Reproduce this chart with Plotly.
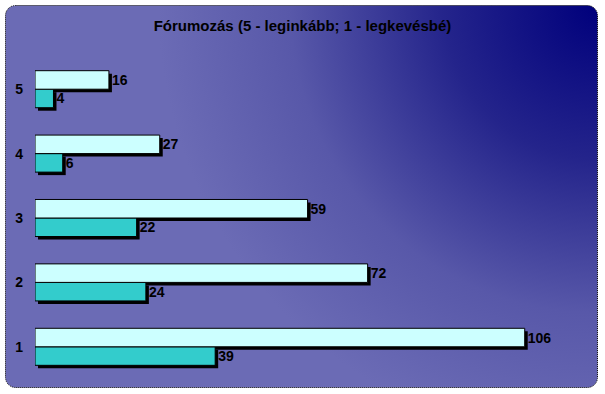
import base64
import plotly.graph_objects as go

categories = ["1", "2", "3", "4", "5"]
light_values = [106, 72, 59, 27, 16]
teal_values = [39, 24, 22, 6, 4]
title_text = "<b>Fórumozás (5 - leginkább; 1 - legkevésbé)</b>"

FW, FH = 605, 394
ML, MR, MT, MB = 35, 39, 57, 12
PW, PH = FW - ML - MR, FH - MT - MB
SH = 3  # shadow offset px
XMAX = (PW - SH) / 4.62

LIGHT = "#CCFFFF"
TEAL = "#33CCCC"
FONT = "Arial, Liberation Sans, sans-serif"

svg = f'''<svg xmlns="http://www.w3.org/2000/svg" width="{FW}" height="{FH}" viewBox="0 0 {FW} {FH}" preserveAspectRatio="none">
<defs><radialGradient id="g" gradientUnits="userSpaceOnUse" cx="598" cy="5" r="440">
<stop offset="0" stop-color="#00007C"/>
<stop offset="0.35" stop-color="#24248B"/>
<stop offset="0.7" stop-color="#5858A9"/>
<stop offset="1" stop-color="#6B6BB5"/>
</radialGradient></defs>
<rect x="5.5" y="5.5" width="592" height="382" rx="10" ry="10" fill="url(#g)" stroke="#000" stroke-width="1" stroke-dasharray="1,1"/>
</svg>'''
src = "data:image/svg+xml;base64," + base64.b64encode(svg.encode("utf-8")).decode("ascii")

fig = go.Figure()

# shadow bars (subplot x/y, shifted right & down)
for vals in (teal_values, light_values):
    fig.add_trace(go.Bar(
        y=categories, x=vals, orientation="h",
        marker=dict(color="#000000", line=dict(width=0)),
        xaxis="x", yaxis="y", hoverinfo="skip", showlegend=False,
    ))

# main bars (subplot x2/y2)
for vals, col in ((teal_values, TEAL), (light_values, LIGHT)):
    fig.add_trace(go.Bar(
        y=categories, x=vals, orientation="h",
        marker=dict(color=col, line=dict(width=1, color="#000000")),
        text=[str(v) for v in vals], textposition="outside",
        textfont=dict(family=FONT, size=14, color="#000000"),
        texttemplate="<b>%{text}</b>", constraintext="none", cliponaxis=False,
        xaxis="x2", yaxis="y2", showlegend=False,
    ))

fig.update_layout(
    width=FW, height=FH,
    margin=dict(l=ML, r=MR, t=MT, b=MB),
    paper_bgcolor="#FFFFFF", plot_bgcolor="rgba(0,0,0,0)",
    barmode="group", bargap=0.425, bargroupgap=0,
    showlegend=False,
    title=dict(text=title_text, x=0.5, xref="container", xanchor="center",
               y=1 - 26 / FH, yref="container", yanchor="middle",
               font=dict(family=FONT, size=15, color="#000000")),
    xaxis=dict(domain=[SH / PW, 1], range=[0, XMAX], visible=False, anchor="y"),
    yaxis=dict(domain=[0, 1 - SH / PH], visible=False, anchor="x",
               categoryorder="array", categoryarray=categories),
    xaxis2=dict(domain=[0, 1 - SH / PW], range=[0, XMAX], visible=False, anchor="y2"),
    yaxis2=dict(domain=[SH / PH, 1], anchor="x2", showgrid=False, zeroline=False,
                showline=False, ticks="", ticklabelstandoff=11,
                categoryorder="array", categoryarray=categories,
                tickfont=dict(family=FONT, size=14, color="#000000"),
                tickprefix="<b>", ticksuffix="</b>"),
    images=[dict(source=src, xref="paper", yref="paper",
                 x=-ML / PW, y=1 + MT / PH, sizex=FW / PW, sizey=FH / PH,
                 xanchor="left", yanchor="top", sizing="stretch", layer="below")],
)

fig.write_html("out.html", config={"displayModeBar": False},
               post_script="document.body.style.margin='0px';document.body.style.overflow='hidden';")
